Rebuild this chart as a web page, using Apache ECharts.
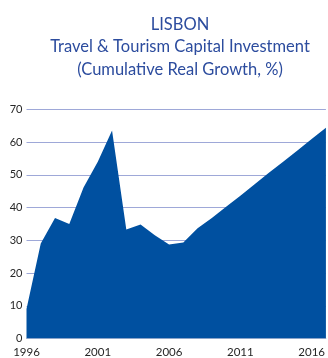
<!DOCTYPE html>
<html>
<head>
<meta charset="utf-8">
<script src="https://cdn.jsdelivr.net/npm/echarts@6/dist/echarts.min.js"></script>
<style>
  html, body { margin: 0; padding: 0; background: #fff; }
  #chart { width: 328px; height: 358px; }
</style>
</head>
<body>
<div id="chart"></div>
<script>
// Years on the horizontal axis (the last one runs just past the frame edge)
const years = ['1996','1997','1998','1999','2000','2001','2002','2003','2004','2005','2006',
               '2007','2008','2009','2010','2011','2012','2013','2014','2015','2016','2017'];
// Cumulative real growth of capital investment, %
const growth = [9, 29, 36.8, 35, 46.1, 54, 63.5, 33.3, 34.8, 31.5, 28.7,
                29.3, 33.7, 36.8, 40.2, 43.6, 47.1, 50.6, 54.0, 57.4, 60.9, 64.4];
const yTicks = { min: 0, max: 70, step: 10 };

const titleLines = ['LISBON', 'Travel & Tourism Capital Investment', '(Cumulative Real Growth, %)'];

const chart = echarts.init(document.getElementById('chart'), null, { renderer: 'canvas' });
const font = 'Lato, "Open Sans", sans-serif';

chart.setOption({
  animation: false,
  backgroundColor: '#ffffff',
  title: {
    text: titleLines.join('\n'),
    left: 175,
    top: 8,
    textAlign: 'center',
    textStyle: {
      color: '#2c4c9e',
      fontFamily: font,
      fontSize: 16.5,
      fontWeight: 'normal',
      lineHeight: 22.5
    }
  },
  grid: { left: 26.5, right: -4.3, top: 109.3, bottom: 18.7, containLabel: false },
  xAxis: {
    type: 'category',
    data: years,
    boundaryGap: false,
    axisLine: { show: true, lineStyle: { color: '#b9c0d8', width: 1 } },
    axisTick: { show: false },
    axisLabel: {
      interval: 4,
      color: '#262626',
      fontFamily: font,
      fontSize: 11.5,
      margin: 7.5
    },
    splitLine: { show: false }
  },
  yAxis: {
    type: 'value',
    min: yTicks.min,
    max: yTicks.max,
    interval: yTicks.step,
    axisLine: { show: false },
    axisTick: { show: false },
    axisLabel: {
      color: '#262626',
      fontFamily: font,
      fontSize: 11,
      margin: 4
    },
    splitLine: { show: true, lineStyle: { color: '#9ea8d8', width: 1 } }
  },
  series: [{
    type: 'line',
    data: growth,
    symbol: 'none',
    lineStyle: { width: 0 },
    areaStyle: { color: '#0050a0', opacity: 1 },
    z: 3
  }]
});
</script>
</body>
</html>
